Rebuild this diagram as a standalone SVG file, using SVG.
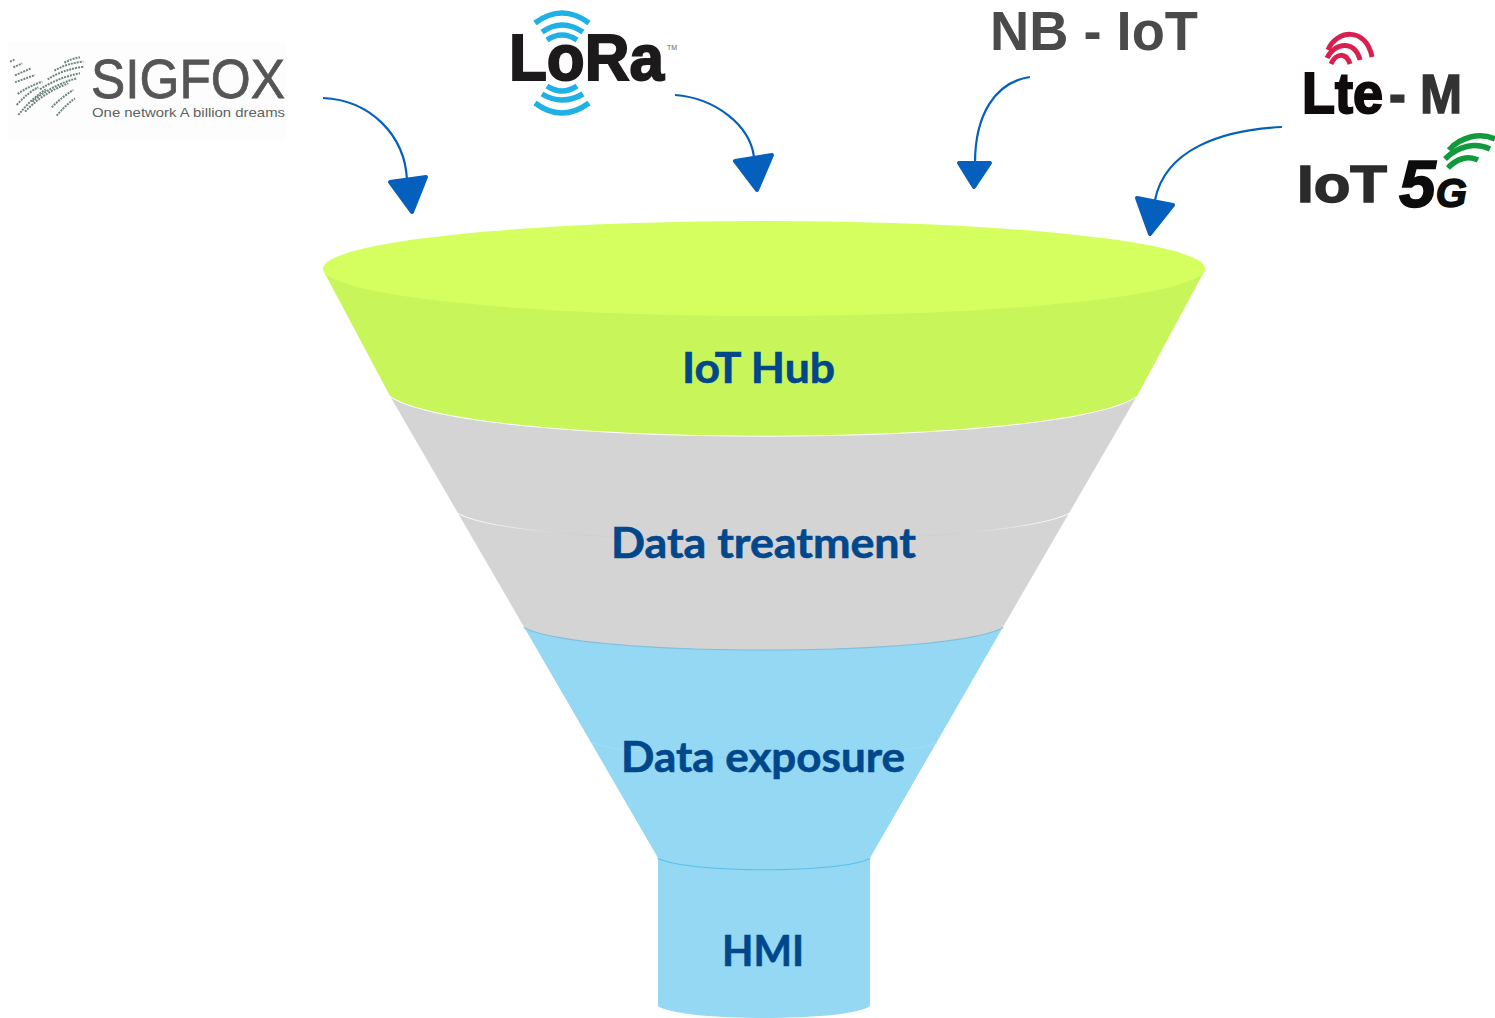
<svg xmlns="http://www.w3.org/2000/svg" width="1495" height="1018" viewBox="0 0 1495 1018">
<style>
.lbl{font-family:Lato,"Open Sans",sans-serif;font-weight:700;font-size:42px;fill:#00478c;stroke:#00478c;stroke-width:.6;text-anchor:start}
.wire{fill:none;stroke:#0560bd;stroke-width:2.2}
.head{fill:#0560bd;stroke:#0560bd;stroke-width:4;stroke-linejoin:round}
.logo{font-family:"Liberation Sans",Arial,sans-serif;font-weight:700}
.cy{fill:none;stroke:#1fb0e6;stroke-linecap:butt;stroke-width:5.500}
.gr{fill:none;stroke:#119a3c;stroke-linecap:butt;stroke-width:5.500}
.rd{fill:none;stroke:#d8204e;stroke-linecap:butt;stroke-width:5}
.sf{fill:none;stroke:#6d857c;stroke-width:6;stroke-dasharray:6 3}
</style>
<defs>
<linearGradient id="seamGrey" x1="0" x2="1" y1="0" y2="0">
<stop offset="0" stop-color="#fff"/><stop offset=".18" stop-color="#d0d0d0"/><stop offset=".82" stop-color="#d0d0d0"/><stop offset="1" stop-color="#fff"/>
</linearGradient>
<linearGradient id="seamBlue" x1="0" x2="1" y1="0" y2="0">
<stop offset="0" stop-color="#a4def5"/><stop offset=".5" stop-color="#7fcdee"/><stop offset="1" stop-color="#a4def5"/>
</linearGradient>
</defs>
<rect width="1495" height="1018" fill="#fff"/>
<g id="hmi">
<path d="M658,858V1006C680,1022 850,1022 870,1006V858Z" fill="#95d8f3"/>
<path d="M658,858C690,873 840,873 870,858" fill="none" stroke="#58c0ec" stroke-width="2"/>
<text class="lbl" x="722" y="966" textLength="82" lengthAdjust="spacingAndGlyphs">HMI</text>
</g>
<g id="data-exposure">
<path d="M524,627L658,858C690,873 840,873 870,858L1003,627C950,657 580,657 524,627Z" fill="#95d8f3"/>
<path d="M592,743C650,763 880,763 937,743" fill="none" stroke="url(#seamBlue)" stroke-width="1"/>
<path d="M524,627C580,657 950,657 1003,627" fill="none" stroke="#7fc0de" stroke-width="2.500"/>
<text class="lbl" x="621" y="772" textLength="284" lengthAdjust="spacingAndGlyphs">Data exposure</text>
</g>
<g id="data-treatment">
<path d="M390,396L524,627C580,657 950,657 1003,627L1137,396C1060,449 470,449 390,396Z" fill="#d4d4d4"/>
<path d="M457,513C520,550 1000,550 1070,513" fill="none" stroke="url(#seamGrey)" stroke-width="1"/>
<path d="M390,396C470,449 1060,449 1137,396" fill="none" stroke="#fff" stroke-width="2"/>
<text class="lbl" x="611" y="558" textLength="305" lengthAdjust="spacingAndGlyphs">Data treatment</text>
</g>
<g id="iot-hub">
<path d="M323,270L390,396C470,449 1060,449 1137,396L1205,270Z" fill="#c8f55a"/>
<ellipse cx="764" cy="268.500" rx="441" ry="47.500" fill="#d4ff5f"/>
<text class="lbl" x="682" y="383" textLength="153" lengthAdjust="spacingAndGlyphs">IoT Hub</text>
</g>
<g id="connectors">
<path class="wire" d="M323,98C370,100 405,135 407,180"/>
<path class="head" d="M390,182L426,177L412,212Z"/>
<path class="wire" d="M675,95C715,98 750,125 754,157"/>
<path class="head" d="M735,161L772,155L757,190Z"/>
<path class="wire" d="M1030,77C995,82 975,115 975,163"/>
<path class="head" d="M959,163L990,163L974,187Z"/>
<path class="wire" d="M1282,127C1220,130 1165,150 1155,200"/>
<path class="head" d="M1137,198L1173,205L1150,234Z"/>
</g>
<g id="sigfox">
<rect x="8" y="42" width="278" height="98" fill="#fdfdfd"/>
<g transform="translate(5,50) scale(.3333)">
<path class="sf" d="M178,38Q200,26 225,22"/>
<path class="sf" d="M148,62Q185,40 235,35"/>
<path class="sf" d="M128,88Q170,60 235,50"/>
<path class="sf" d="M105,118Q160,82 225,70"/>
<path class="sf" d="M82,155Q135,108 215,85"/>
<path class="sf" d="M60,185Q115,128 190,100"/>
<path class="sf" d="M40,195Q75,150 122,118"/>
<path class="sf" d="M15,35L30,28"/>
<path class="sf" d="M25,52L52,40"/>
<path class="sf" d="M30,76L78,55"/>
<path class="sf" d="M30,97L90,75"/>
<path class="sf" d="M38,132Q72,108 112,95"/>
<path class="sf" d="M35,165Q68,128 100,112"/>
<path class="sf" d="M140,172Q170,142 205,120"/>
<path class="sf" d="M155,197Q180,167 210,145"/>
</g>
<text x="91" y="98" font-family="'Liberation Sans',Arial,sans-serif" font-size="56" fill="#555" stroke="#555" stroke-width=".8" textLength="194" lengthAdjust="spacingAndGlyphs">SIGFOX</text>
<text x="92" y="117" font-family="'Liberation Sans',Arial,sans-serif" font-size="13" fill="#5a6460" textLength="193" lengthAdjust="spacingAndGlyphs">One network A billion dreams</text>
</g>
<g id="lora">
<path class="cy" stroke-width="6" d="M535,23Q562,3 589,23"/>
<path class="cy" d="M542,32Q562,18 583,32"/>
<path class="cy" d="M547,40Q562,30 577,40"/>
<path class="cy" d="M547,86Q562,96 577,86"/>
<path class="cy" d="M542,94Q562,106 583,94"/>
<path class="cy" d="M535,103Q562,123 589,103"/>
<text class="logo" x="509" y="80" font-size="65" fill="#1c1a1a" stroke="#1c1a1a" stroke-width="2" textLength="155" lengthAdjust="spacingAndGlyphs">LoRa</text>
<text x="667" y="50" font-family="'Liberation Sans',Arial,sans-serif" font-size="7" fill="#666">TM</text>
</g>
<g id="nb-iot">
<text class="logo" x="990" y="50" font-size="55" fill="#4a4a4a" textLength="208" lengthAdjust="spacingAndGlyphs">NB - IoT</text>
</g>
<g id="lte-m">
<path class="rd" stroke-width="6" d="M1328,50C1336,30 1366,26 1372,57"/>
<path class="rd" d="M1327,58C1335,42 1355,40 1360,60"/>
<path class="rd" stroke-width="4.500" d="M1331,64C1336,53 1346,52 1350,64"/>
<text class="logo" x="1302" y="113" font-size="57" fill="#0f0a0c" stroke="#0f0a0c" stroke-width="2" textLength="81" lengthAdjust="spacingAndGlyphs">Lte</text>
<text class="logo" x="1389" y="113" font-size="56" fill="#333" stroke="#333" stroke-width="1.500" textLength="73" lengthAdjust="spacingAndGlyphs">- M</text>
</g>
<g id="iot-5g">
<path class="gr" stroke-width="6" d="M1449,150C1460,137 1480,132 1495,139"/>
<path class="gr" d="M1445,159C1458,146 1475,142 1490,149"/>
<path class="gr" d="M1448,168C1456,159 1468,155 1478,160"/>
<text class="logo" x="1297" y="202" font-size="52" fill="#2b2b2b" stroke="#2b2b2b" stroke-width="1.500" textLength="90" lengthAdjust="spacingAndGlyphs">IoT</text>
<text class="logo" x="1399" y="207" font-style="italic" fill="#0c0c0c" stroke="#0c0c0c" stroke-width="1.500"><tspan font-size="66">5</tspan><tspan font-size="40">G</tspan></text>
</g>
</svg>
